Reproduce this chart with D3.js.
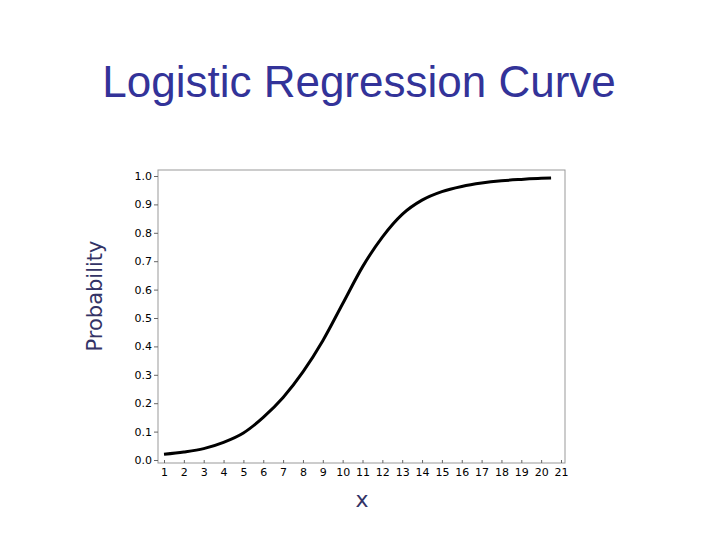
<!DOCTYPE html>
<html>
<head>
<script src="https://cdn.jsdelivr.net/npm/d3@7"></script>
<style>body{margin:0;background:#fff}</style>
</head>
<body>
<div id="container"></div>
<script>
// Valeurs
const xValues = [1, 2, 3, 4, 5, 6, 7, 8, 9, 10, 11, 12, 13, 14, 15, 16, 17, 18, 19, 20, 20.5];
const pValues = [0.02, 0.028, 0.04, 0.062, 0.095, 0.15, 0.22, 0.31, 0.42, 0.55, 0.68, 0.785, 0.865, 0.915, 0.945, 0.963, 0.975, 0.983, 0.988, 0.992, 0.993];
const xTicks = d3.range(1, 22);
const yTicks = [0, 0.1, 0.2, 0.3, 0.4, 0.5, 0.6, 0.7, 0.8, 0.9, 1.0];

const svg = d3.select("#container").append("svg")
  .attr("width", 720).attr("height", 540);

const x = d3.scaleLinear().domain([1, 21]).range([164, 561]);
const y = d3.scaleLinear().domain([0, 1]).range([460, 176]);

// Titre
svg.append("text").attr("x", 359).attr("y", 97).attr("text-anchor", "middle")
  .style("font-family", "Liberation Sans, Arial").style("font-size", "44px")
  .style("fill", "#333399").text("Logistic Regression Curve");

// Cadre
svg.append("rect").attr("x", 158).attr("y", 170).attr("width", 407).attr("height", 293)
  .style("fill", "none").style("stroke", "#999").style("stroke-width", 1);

// Axes
const yAxis = svg.append("g").attr("transform", "translate(158,0)")
  .call(d3.axisLeft(y).tickValues(yTicks).tickFormat(d3.format(".1f")).tickSize(4).tickPadding(2));
const xAxis = svg.append("g").attr("transform", "translate(0,463)")
  .call(d3.axisBottom(x).tickValues(xTicks).tickFormat(d3.format("d")).tickSize(0).tickPadding(5));
[yAxis, xAxis].forEach(g => {
  g.select(".domain").remove();
  g.selectAll("line").style("stroke", "#666");
  g.selectAll("text").style("font-family", "DejaVu Sans, Verdana").style("font-size", "11px").style("fill", "#000");
});
xAxis.selectAll(".tick").append("line").attr("y1", -3).attr("y2", 0).style("stroke", "#666");

// Libellés d'axes
svg.append("text").attr("transform", "translate(102,296) rotate(-90)").attr("text-anchor", "middle")
  .style("font-family", "DejaVu Sans, Verdana").style("font-size", "21px").style("fill", "#333366").text("Probability");
svg.append("text").attr("x", 362).attr("y", 507).attr("text-anchor", "middle")
  .style("font-family", "DejaVu Sans, Verdana").style("font-size", "22px").style("fill", "#333366").text("x");

// Courbe
const line = d3.line().x(d => x(d[0])).y(d => y(d[1])).curve(d3.curveMonotoneX);
svg.append("path").datum(xValues.map((v, i) => [v, pValues[i]]))
  .attr("d", line).style("fill", "none").style("stroke", "#000").style("stroke-width", 3);
</script>
</body>
</html>
